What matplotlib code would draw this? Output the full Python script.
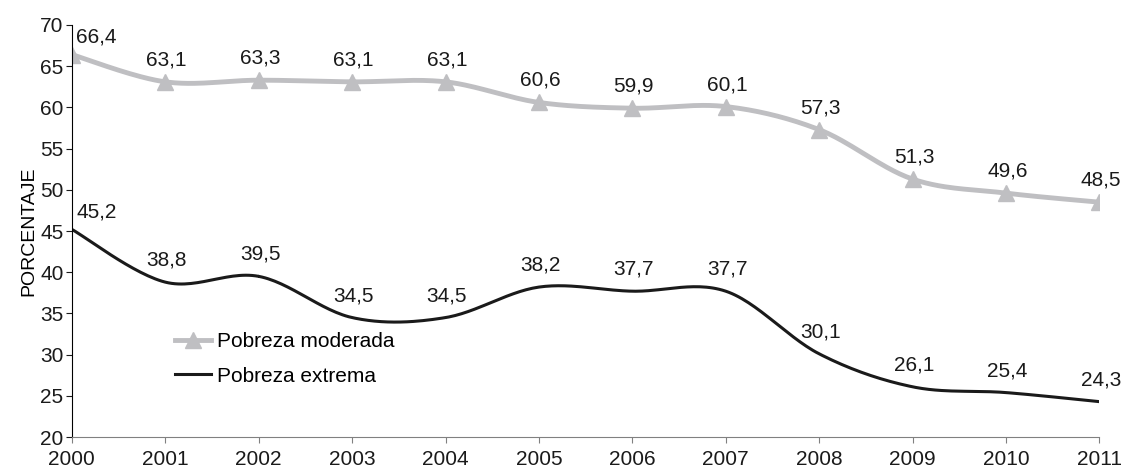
import numpy as np
import matplotlib
matplotlib.use('Agg')
import matplotlib.pyplot as plt

plt.rcParams['font.family'] = ['Liberation Sans', 'DejaVu Sans']

years = [2000, 2001, 2002, 2003, 2004, 2005, 2006, 2007, 2008, 2009, 2010, 2011]
moderada = [66.4, 63.1, 63.3, 63.1, 63.1, 60.6, 59.9, 60.1, 57.3, 51.3, 49.6, 48.5]
extrema = [45.2, 38.8, 39.5, 34.5, 34.5, 38.2, 37.7, 37.7, 30.1, 26.1, 25.4, 24.3]

def fmt(v):
    return ('%.1f' % v).replace('.', ',')

def smooth(x, y, n=30):
    # catmull-rom style smoothing, similar to excel smoothed lines
    x = np.asarray(x, float)
    y = np.asarray(y, float)
    px = np.concatenate([[x[0]], x, [x[-1]]])
    py = np.concatenate([[y[0]], y, [y[-1]]])
    xs, ys = [], []
    t = np.linspace(0, 1, n)
    for i in range(1, len(px) - 2):
        p0, p1, p2, p3 = py[i-1], py[i], py[i+1], py[i+2]
        q0, q1, q2, q3 = px[i-1], px[i], px[i+1], px[i+2]
        a = 0.5 * (2*p1 + (-p0 + p2)*t + (2*p0 - 5*p1 + 4*p2 - p3)*t**2 + (-p0 + 3*p1 - 3*p2 + p3)*t**3)
        b = 0.5 * (2*q1 + (-q0 + q2)*t + (2*q0 - 5*q1 + 4*q2 - q3)*t**2 + (-q0 + 3*q1 - 3*q2 + q3)*t**3)
        xs.extend(b)
        ys.extend(a)
    return np.array(xs), np.array(ys)

gray = '#bfbfc2'
dark = '#1a1a1a'
fig, ax = plt.subplots(figsize=(11.23, 4.71), dpi=100)
fig.subplots_adjust(left=0.064, right=0.979, top=0.947, bottom=0.072)

sx, sy = smooth(years, moderada)
ax.plot(sx, sy, color=gray, lw=3.5, solid_capstyle='butt')
ax.plot(years, moderada, linestyle='none', marker='^', color=gray, ms=12)
ax.plot([], [], color=gray, lw=3.5, marker='^', ms=12, label='Pobreza moderada')

sx, sy = smooth(years, extrema)
ax.plot(sx, sy, color=dark, lw=2.2, label='Pobreza extrema')

# data labels
for serie in (moderada, extrema):
    for i, (x, v) in enumerate(zip(years, serie)):
        if i == 0:
            ax.annotate(fmt(v), (x, v), xytext=(3, 6), textcoords='offset points',
                        ha='left', va='bottom', fontsize=15, color=dark)
        else:
            ax.annotate(fmt(v), (x, v), xytext=(1, 9), textcoords='offset points',
                        ha='center', va='bottom', fontsize=15, color=dark)

ax.set_xlim(2000, 2011)
ax.set_ylim(20, 70)
ax.set_xticks(years)
ax.set_yticks(range(20, 71, 5))
ax.tick_params(labelsize=15, colors=dark, length=4, pad=2)
ax.tick_params(axis='x', colors='#808080', labelcolor=dark, pad=5)
ax.spines['top'].set_visible(False)
ax.spines['right'].set_visible(False)
ax.spines['bottom'].set_color('#808080')
ax.set_ylabel('PORCENTAJE', fontsize=14, labelpad=2)

ax.legend(loc='center left', bbox_to_anchor=(0.1, 0.19), frameon=False, fontsize=15,
          handlelength=1.75, handletextpad=0.3, labelspacing=0.75,
          borderpad=0, borderaxespad=0)

plt.savefig('out.png', dpi=100)
